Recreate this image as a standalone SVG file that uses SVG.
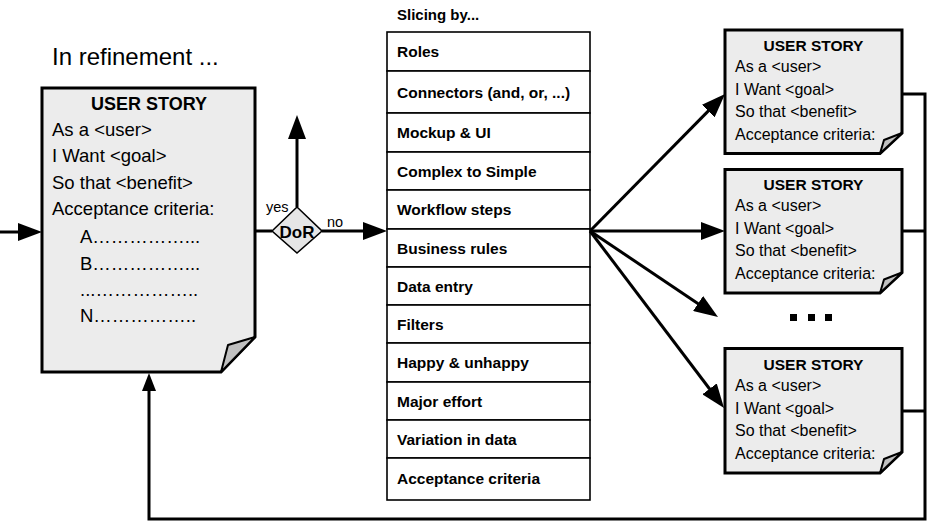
<svg xmlns="http://www.w3.org/2000/svg" width="934" height="529" viewBox="0 0 934 529">
<style>
text{font-family:"Liberation Sans",Arial,sans-serif;fill:#000}
.card{fill:#ececec;stroke:#000;stroke-width:3;stroke-linejoin:miter}
.fold{fill:#c0c0c0;stroke:#000;stroke-width:2;stroke-linejoin:round}
.mt{font-size:18px;font-weight:bold;text-anchor:middle}
.mb{font-size:18.5px}
.ct{font-size:15.5px;font-weight:bold;text-anchor:middle}
.cb{font-size:16px}
.row{fill:#fff;stroke:#000;stroke-width:1.6}
.rt{font-size:15.5px;font-weight:bold}
.lbl{font-size:14.5px}
.conn{fill:none;stroke:#000;stroke-width:3}
</style>
<defs>
<marker id="ah" markerUnits="userSpaceOnUse" markerWidth="24" markerHeight="18" refX="14" refY="9" orient="auto">
<path d="M0,0 L24,9 L0,18 z" fill="#000"/>
</marker>
<marker id="ahs" markerUnits="userSpaceOnUse" markerWidth="18" markerHeight="14" refX="10" refY="7" orient="auto">
<path d="M0,0 L18,7 L0,14 z" fill="#000"/>
</marker>
</defs>

<text x="52" y="65" font-size="24">In refinement ...</text>
<text x="397" y="20" font-size="15" font-weight="bold">Slicing by...</text>

<g id="main-story">
<path class="card" d="M42,88 H255 V337 L221,372 H42 Z"/>
<path class="fold" d="M221,372 L228,345 L255,337 Z"/>
<text class="mt" x="149" y="110">USER STORY</text>
<text class="mb" x="52" y="136">As a &lt;user&gt;</text>
<text class="mb" x="52" y="162">I Want &lt;goal&gt;</text>
<text class="mb" x="52" y="189">So that &lt;benefit&gt;</text>
<text class="mb" x="52" y="215">Acceptance criteria:</text>
<text class="mb" x="80" y="243">A……………...</text>
<text class="mb" x="80" y="270">B……………...</text>
<text class="mb" x="80" y="296">...……………..</text>
<text class="mb" x="80" y="322">N……………..</text>
</g>

<g id="dor">
<path d="M272,231 L297,207 L322,231 L297,253 Z" fill="#e6e6e6" stroke="#000" stroke-width="1.6"/>
<text x="297" y="238" font-size="17" font-weight="bold" text-anchor="middle">DoR</text>
</g>

<g id="slicing-list">
<rect class="row" x="387" y="32" width="203" height="39"/>
<rect class="row" x="387" y="71" width="203" height="42"/>
<rect class="row" x="387" y="113" width="203" height="39"/>
<rect class="row" x="387" y="152" width="203" height="38"/>
<rect class="row" x="387" y="190" width="203" height="39"/>
<rect class="row" x="387" y="229" width="203" height="38"/>
<rect class="row" x="387" y="267" width="203" height="38"/>
<rect class="row" x="387" y="305" width="203" height="38"/>
<rect class="row" x="387" y="343" width="203" height="39"/>
<rect class="row" x="387" y="382" width="203" height="38"/>
<rect class="row" x="387" y="420" width="203" height="38"/>
<rect class="row" x="387" y="458" width="203" height="42"/>
<text class="rt" x="397" y="57">Roles</text>
<text class="rt" x="397" y="97.5">Connectors (and, or, ...)</text>
<text class="rt" x="397" y="138">Mockup &amp; UI</text>
<text class="rt" x="397" y="176.5">Complex to Simple</text>
<text class="rt" x="397" y="215">Workflow steps</text>
<text class="rt" x="397" y="253.5">Business rules</text>
<text class="rt" x="397" y="291.5">Data entry</text>
<text class="rt" x="397" y="329.5">Filters</text>
<text class="rt" x="397" y="368">Happy &amp; unhappy</text>
<text class="rt" x="397" y="406.5">Major effort</text>
<text class="rt" x="397" y="444.5">Variation in data</text>
<text class="rt" x="397" y="484">Acceptance criteria</text>
</g>

<g id="story-1">
<path class="card" d="M725,30 H902 V133 L880,153.5 H725 Z"/>
<path class="fold" d="M880,153.5 L884,140 L902,133 Z"/>
<text class="ct" x="813.5" y="51">USER STORY</text>
<text class="cb" x="735" y="72">As a &lt;user&gt;</text>
<text class="cb" x="735" y="94.5">I Want &lt;goal&gt;</text>
<text class="cb" x="735" y="117">So that &lt;benefit&gt;</text>
<text class="cb" x="735" y="140">Acceptance criteria:</text>
</g>

<g id="story-2">
<path class="card" d="M725,169.5 H902 V272.5 L880,293 H725 Z"/>
<path class="fold" d="M880,293 L884,279.5 L902,272.5 Z"/>
<text class="ct" x="813.5" y="190">USER STORY</text>
<text class="cb" x="735" y="211">As a &lt;user&gt;</text>
<text class="cb" x="735" y="233.5">I Want &lt;goal&gt;</text>
<text class="cb" x="735" y="256">So that &lt;benefit&gt;</text>
<text class="cb" x="735" y="279">Acceptance criteria:</text>
</g>

<g id="more">
<rect x="790" y="314" width="7" height="7" fill="#000"/>
<rect x="808" y="314" width="7" height="7" fill="#000"/>
<rect x="825" y="314" width="7" height="7" fill="#000"/>
</g>

<g id="story-3">
<path class="card" d="M725,348.5 H902 V452 L880,473 H725 Z"/>
<path class="fold" d="M880,473 L884,459 L902,452 Z"/>
<text class="ct" x="813.5" y="370">USER STORY</text>
<text class="cb" x="735" y="391">As a &lt;user&gt;</text>
<text class="cb" x="735" y="413.5">I Want &lt;goal&gt;</text>
<text class="cb" x="735" y="436">So that &lt;benefit&gt;</text>
<text class="cb" x="735" y="459">Acceptance criteria:</text>
</g>

<g id="connectors">
<path class="conn" d="M0,232 H32" marker-end="url(#ah)"/>
<path class="conn" d="M255,231 H272"/>
<path class="conn" d="M297,207 V125" marker-end="url(#ah)"/>
<path class="conn" d="M322,231 H377" marker-end="url(#ah)"/>
<path class="conn" d="M590,231 L718,101.1" marker-end="url(#ah)"/>
<path class="conn" d="M590,231 H715" marker-end="url(#ah)"/>
<path class="conn" d="M590,231 L709.7,311.4" marker-end="url(#ah)"/>
<path class="conn" d="M590,231 L718,400" marker-end="url(#ah)"/>
<path class="conn" d="M902,94 H925 V519 H149 V381" marker-end="url(#ahs)"/>
<path class="conn" d="M902,231 H925"/>
<path class="conn" d="M902,411 H925"/>
<text class="lbl" x="266" y="212">yes</text>
<text class="lbl" x="327" y="227">no</text>
</g>
</svg>
